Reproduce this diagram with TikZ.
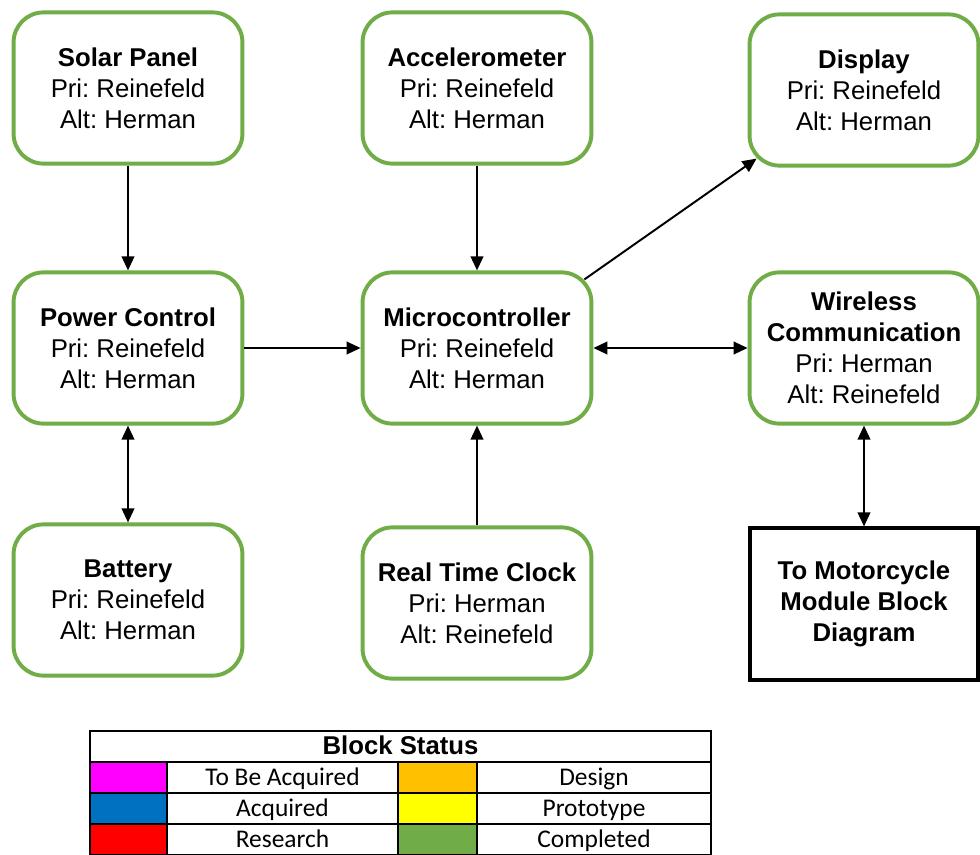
\documentclass[tikz,border=0pt]{standalone}
\usepackage{fontspec}
\setmainfont{Liberation Sans}
\newfontfamily\legendfont{Carlito}
\usepackage{xcolor}
\usetikzlibrary{arrows.meta,calc}
\frenchspacing

\definecolor{blockgreen}{HTML}{70AD47}
\definecolor{statmagenta}{HTML}{FF00FF}
\definecolor{statblue}{HTML}{0070C0}
\definecolor{statred}{HTML}{FF0000}
\definecolor{statorange}{HTML}{FFC000}
\definecolor{statyellow}{HTML}{FFFF00}
\definecolor{statgreen}{HTML}{70AD47}

\tikzset{
  block/.style={draw=blockgreen,line width=2.8pt,rounded corners=0.75cm,fill=white,
    minimum width=5.72cm,minimum height=3.78cm,align=center,
    font=\fontsize{18.3}{22}\selectfont},
  extblock/.style={draw=black,line width=2.8pt,fill=white,
    minimum width=5.72cm,minimum height=3.78cm,align=center,
    font=\bfseries\fontsize{18.3}{22}\selectfont},
  link/.style={line width=1.4pt,-{Triangle[length=10pt,width=9pt]}},
  dlink/.style={line width=1.4pt,{Triangle[length=10pt,width=9pt]}-{Triangle[length=10pt,width=9pt]}},
  statcell/.style={draw=black,line width=1.4pt,minimum height=0.775cm,inner sep=0pt,
    text height=14pt,text depth=2pt,
    font=\legendfont\fontsize{18.1}{22}\selectfont},
}

\begin{document}
\begin{tikzpicture}[x=0.025cm,y=-0.025cm]
\useasboundingbox (0,0) rectangle (980,855);

% top row
\node[block] (solar) at (128,88) {\textbf{Solar Panel}\\Pri: Reinefeld\\Alt: Herman};
\node[block] (accel) at (477,88) {\textbf{Accelerometer}\\Pri: Reinefeld\\Alt: Herman};
\node[block] (disp) at (864,90) {\textbf{Display}\\Pri: Reinefeld\\Alt: Herman};

% middle row
\node[block] (power) at (128,348) {\textbf{Power Control}\\Pri: Reinefeld\\Alt: Herman};
\node[block] (micro) at (477,348) {\textbf{Microcontroller}\\Pri: Reinefeld\\Alt: Herman};
\node[block] (wireless) at (864,348) {\textbf{Wireless}\\\textbf{Communication}\\Pri: Herman\\Alt: Reinefeld};

% bottom row
\node[block] (battery) at (128,600) {\textbf{Battery}\\Pri: Reinefeld\\Alt: Herman};
\node[block] (rtc) at (477,603) {\textbf{Real Time Clock}\\Pri: Herman\\Alt: Reinefeld};
\node[extblock] (moto) at (864,604) {To Motorcycle\\Module Block\\Diagram};

% connectors
\draw[link] (solar) -- (power);
\draw[link] (accel) -- (micro);
\draw[link] (power) -- (micro);
\draw[link] (rtc) -- (micro);
\draw[link] ($(micro.north east)+(-9,9)$) -- ($(disp.south west)+(9,-9)$);
\draw[dlink] (micro) -- (wireless);
\draw[dlink] (power) -- (battery);
\draw[dlink] (wireless) -- (moto);

% block status legend
\node[statcell,minimum width=15.525cm,font=\bfseries\fontsize{18.3}{22}\selectfont]
  (status) at (400.5,746.5) {Block Status};
\foreach \clrA/\txtA/\clrB/\txtB [count=\r] in
  {statmagenta/To Be Acquired/statorange/Design,
   statblue/Acquired/statyellow/Prototype,
   statred/Research/statgreen/Completed}{
  \node[statcell,fill=\clrA,minimum width=1.925cm] (keyA\r) at (128.5,746.5+31*\r) {};
  \node[statcell,minimum width=5.775cm] (nameA\r) at (282.5,746.5+31*\r) {\txtA};
  \node[statcell,fill=\clrB,minimum width=1.975cm] (keyB\r) at (437.5,746.5+31*\r) {};
  \node[statcell,minimum width=5.85cm] (nameB\r) at (594,746.5+31*\r) {\txtB};
}
\end{tikzpicture}
\end{document}
